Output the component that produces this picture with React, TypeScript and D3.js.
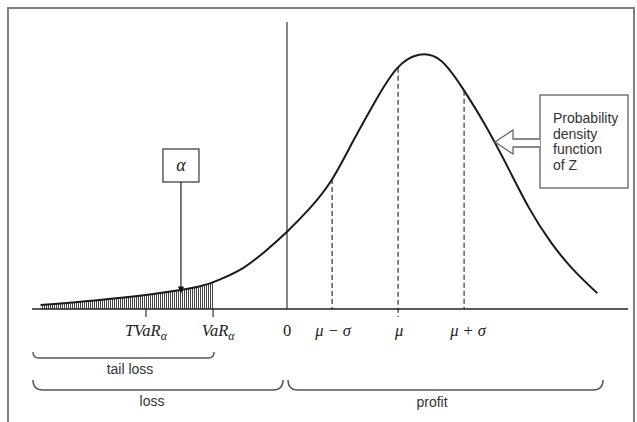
import { useEffect, useRef } from "react";
import * as d3 from "d3";

// curve: position on the P&L axis and density (peak = 1)
const zValues = [-11.2, -10, -8, -6, -4, -3, -2, -1, 0, 1, 2, 3, 4, 5, 6, 7, 8, 9, 10, 11, 12, 13, 14.1];
const densityValues = [0.016, 0.023, 0.04, 0.06, 0.088, 0.117, 0.16, 0.225, 0.302, 0.39, 0.5, 0.655, 0.81, 0.94, 0.993, 0.97, 0.86, 0.72, 0.56, 0.395, 0.26, 0.155, 0.062];

const mu = 5.05;
const sigma = 3;
const varAlpha = -3.36;
const tvarAlpha = -6.41;
const alphaPointer = -4.82;

const tickLabels = [
  { value: tvarAlpha, main: "TVaR", sub: "α", italic: true, dx: 0 },
  { value: varAlpha, main: "VaR", sub: "α", italic: true, dx: 5 },
  { value: 0, main: "0", sub: "", italic: false, dx: 0 },
  { value: mu - sigma, main: "μ − σ", sub: "", italic: true, dx: 1 },
  { value: mu, main: "μ", sub: "", italic: true, dx: 1 },
  { value: mu + sigma, main: "μ + σ", sub: "", italic: true, dx: 4 },
];

const pdfLines = ["Probability", "density", "function", "of  Z"];

const App = () => {
  const svgRef = useRef<SVGSVGElement>(null);

  useEffect(() => {
    if (!svgRef.current) return;
    const svg = d3.select(svgRef.current);
    svg.selectAll("*").remove();

    const width = 637;
    const height = 422;
    const axisY = 309;

    const x = d3.scaleLinear().domain([0, 1]).range([287, 309]);
    const y = d3.scaleLinear().domain([0, 1]).range([axisY, 53]);
    const densityAt = d3.scaleLinear().domain(zValues).range(densityValues);

    const pts: [number, number][] = zValues.map((z, i) => [z, densityValues[i]]);

    const serif = "'Liberation Serif', 'DejaVu Serif', serif";
    const sans = "'Liberation Sans', Arial, sans-serif";

    svg.attr("width", width).attr("height", height);
    svg.append("rect").attr("width", width).attr("height", height).attr("fill", "#fff");

    // frame
    svg
      .append("path")
      .attr("d", `M8,${height + 2} L8,8 L634,8 L634,${height + 2}`)
      .attr("fill", "none")
      .attr("stroke", "#808080")
      .attr("stroke-width", 2);

    const defs = svg.append("defs");
    const pattern = defs
      .append("pattern")
      .attr("id", "hatch")
      .attr("patternUnits", "userSpaceOnUse")
      .attr("width", 2)
      .attr("height", 3);
    pattern.append("rect").attr("width", 2).attr("height", 3).attr("fill", "#fff");
    pattern.append("rect").attr("width", 1).attr("height", 3).attr("fill", "#444");
    defs
      .append("clipPath")
      .attr("id", "tail")
      .append("rect")
      .attr("x", x(zValues[0]))
      .attr("y", 0)
      .attr("width", x(varAlpha) - x(zValues[0]))
      .attr("height", axisY);

    const area = d3
      .area<[number, number]>()
      .x((d) => x(d[0]))
      .y0(axisY)
      .y1((d) => y(d[1]))
      .curve(d3.curveNatural);

    svg
      .append("path")
      .attr("d", area(pts))
      .attr("fill", "url(#hatch)")
      .attr("clip-path", "url(#tail)");

    // zero line
    svg
      .append("line")
      .attr("x1", x(0))
      .attr("x2", x(0))
      .attr("y1", 22)
      .attr("y2", axisY)
      .attr("stroke", "#333")
      .attr("stroke-width", 1.2);

    // dashed mu / sigma guides
    [mu - sigma, mu, mu + sigma].forEach((v) => {
      svg
        .append("line")
        .attr("x1", x(v))
        .attr("x2", x(v))
        .attr("y1", y(densityAt(v)))
        .attr("y2", v === mu ? axisY + 8 : axisY)
        .attr("stroke", "#333")
        .attr("stroke-width", 1.2)
        .attr("stroke-dasharray", "5,3");
    });

    // axis
    svg
      .append("line")
      .attr("x1", 32)
      .attr("x2", 628)
      .attr("y1", axisY)
      .attr("y2", axisY)
      .attr("stroke", "#222")
      .attr("stroke-width", 1.5);

    [tvarAlpha, varAlpha].forEach((v) => {
      svg
        .append("line")
        .attr("x1", x(v))
        .attr("x2", x(v))
        .attr("y1", axisY)
        .attr("y2", axisY + 8)
        .attr("stroke", "#333")
        .attr("stroke-width", 1.2);
    });

    // density curve
    const line = d3
      .line<[number, number]>()
      .x((d) => x(d[0]))
      .y((d) => y(d[1]))
      .curve(d3.curveNatural);

    svg
      .append("path")
      .attr("d", line(pts))
      .attr("fill", "none")
      .attr("stroke", "#1a1a1a")
      .attr("stroke-width", 2);

    // tick labels
    tickLabels.forEach((t) => {
      const txt = svg
        .append("text")
        .attr("x", x(t.value) + t.dx)
        .attr("y", 336)
        .attr("text-anchor", "middle")
        .attr("font-family", serif)
        .attr("font-size", 16.5)
        .attr("font-style", t.italic ? "italic" : "normal")
        .attr("fill", "#222");
      txt.append("tspan").text(t.main);
      if (t.sub) {
        txt.append("tspan").attr("dy", 4).attr("font-size", 12).text(t.sub);
      }
    });

    // alpha callout
    const ax = x(alphaPointer);
    const ay = y(densityAt(alphaPointer));
    svg
      .append("rect")
      .attr("x", ax - 18)
      .attr("y", 149)
      .attr("width", 36)
      .attr("height", 33)
      .attr("fill", "#fff")
      .attr("stroke", "#333")
      .attr("stroke-width", 1.2);
    svg
      .append("text")
      .attr("x", ax)
      .attr("y", 171)
      .attr("text-anchor", "middle")
      .attr("font-family", serif)
      .attr("font-style", "italic")
      .attr("font-size", 18)
      .attr("fill", "#222")
      .text("α");
    svg
      .append("line")
      .attr("x1", ax)
      .attr("x2", ax)
      .attr("y1", 182)
      .attr("y2", ay)
      .attr("stroke", "#222")
      .attr("stroke-width", 1.2);
    svg
      .append("path")
      .attr("d", `M${ax - 3},${ay - 3} L${ax + 3},${ay - 3} L${ax},${ay + 4} Z`)
      .attr("fill", "#111");

    // pdf callout box with hollow arrow
    const bx = 540;
    const by = 95;
    svg
      .append("rect")
      .attr("x", bx)
      .attr("y", by)
      .attr("width", 88)
      .attr("height", 93)
      .attr("fill", "#fff")
      .attr("stroke", "#777")
      .attr("stroke-width", 1.5);
    svg
      .append("path")
      .attr("d", `M${bx},139 L513,139 L513,130 L495,142 L513,154 L513,147 L${bx},147`)
      .attr("fill", "#fff")
      .attr("stroke", "#666")
      .attr("stroke-width", 1.3);
    pdfLines.forEach((l, i) => {
      svg
        .append("text")
        .attr("x", 553)
        .attr("y", 123 + i * 15.7)
        .attr("font-family", sans)
        .attr("font-size", 14)
        .attr("fill", "#333")
        .text(l);
    });

    // braces
    const brace = (x1: number, x2: number, yTop: number, yBot: number) => {
      const r = yBot - yTop;
      return `M${x1},${yTop} Q${x1},${yBot} ${x1 + r},${yBot} L${x2 - r},${yBot} Q${x2},${yBot} ${x2},${yTop}`;
    };
    const braces = [
      { x1: 33, x2: x(varAlpha) + 1, yTop: 352, yBot: 358, label: "tail loss", ly: 374 },
      { x1: 33, x2: x(0) - 4, yTop: 380, yBot: 390, label: "loss", ly: 406 },
      { x1: x(0) + 1, x2: 603, yTop: 380, yBot: 390, label: "profit", ly: 407 },
    ];
    braces.forEach((b) => {
      svg
        .append("path")
        .attr("d", brace(b.x1, b.x2, b.yTop, b.yBot))
        .attr("fill", "none")
        .attr("stroke", "#555")
        .attr("stroke-width", 1.4);
    });
    const labelX = [130, 152, 432];
    braces.forEach((b, i) => {
      svg
        .append("text")
        .attr("x", labelX[i])
        .attr("y", b.ly)
        .attr("text-anchor", "middle")
        .attr("font-family", sans)
        .attr("font-size", 14)
        .attr("fill", "#333")
        .text(b.label);
    });
  }, []);

  return (
    <svg
      ref={svgRef}
      style={{ position: "absolute", left: 0, top: 0, display: "block" }}
    />
  );
};

export default App;
